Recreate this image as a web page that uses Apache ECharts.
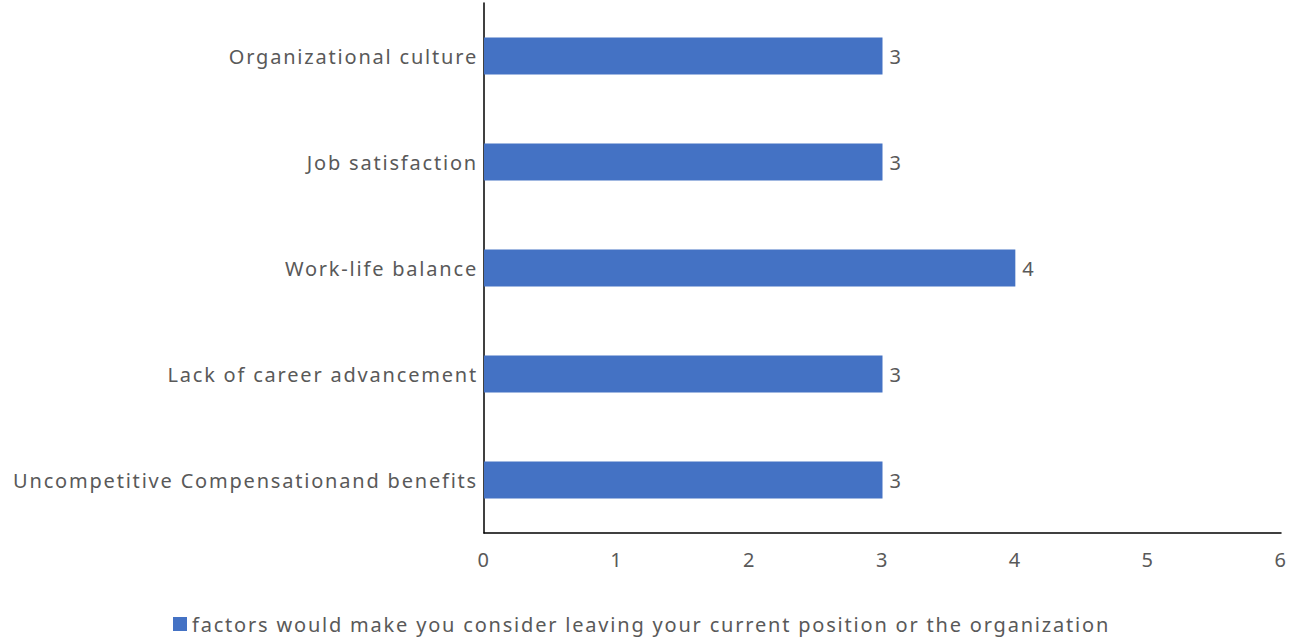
<!DOCTYPE html>
<html>
<head>
<meta charset="utf-8">
<script src="https://cdn.jsdelivr.net/npm/echarts@6/dist/echarts.min.js"></script>
<style>
  html, body { margin: 0; padding: 0; background: #fff; }
  #chart { width: 1290px; height: 640px; }
  /* wider tracking for every chart text */
  #chart svg text { letter-spacing: 1.8px; }
</style>
</head>
<body>
<div id="chart"></div>
<script>
// Categories listed bottom to top (ECharts category y-axis starts at the bottom)
const categories = [
  'Uncompetitive Compensationand benefits',
  'Lack of career advancement',
  'Work-life balance',
  'Job satisfaction',
  'Organizational culture'
];
const seriesName = 'factors would make you consider leaving your current position or the organization';
const values = [3, 3, 4, 3, 3];
const xTicks = [0, 1, 2, 3, 4, 5, 6];

const textColor = '#595959';
const fontFamily = '"Noto Sans", "Open Sans", sans-serif';

const chart = echarts.init(document.getElementById('chart'), null, { renderer: 'svg' });
chart.setOption({
  animation: false,
  textStyle: { fontFamily: fontFamily },
  grid: { left: 484, right: 9, top: 3, bottom: 107, containLabel: false },
  legend: {
    data: [seriesName],
    bottom: 1,
    left: 168,
    icon: 'rect',
    itemWidth: 14,
    itemHeight: 14,
    textStyle: { color: textColor, fontSize: 20, fontFamily: fontFamily }
  },
  xAxis: {
    type: 'value',
    min: xTicks[0],
    max: xTicks[xTicks.length - 1],
    interval: 1,
    axisLine: { show: true, lineStyle: { color: '#000', width: 1.5 } },
    axisTick: { show: false },
    splitLine: { show: false },
    axisLabel: { color: textColor, fontSize: 20, margin: 16, fontFamily: fontFamily }
  },
  yAxis: {
    type: 'category',
    data: categories,
    axisLine: { show: true, lineStyle: { color: '#000', width: 1.5 } },
    axisTick: { show: false },
    axisLabel: { color: textColor, fontSize: 20, margin: 6, fontFamily: fontFamily }
  },
  series: [{
    name: seriesName,
    type: 'bar',
    data: values,
    barWidth: '35%',
    itemStyle: { color: '#4472C4' },
    label: {
      show: true,
      position: 'right',
      distance: 7,
      color: textColor,
      fontSize: 20,
      fontFamily: fontFamily
    }
  }]
});
</script>
</body>
</html>
